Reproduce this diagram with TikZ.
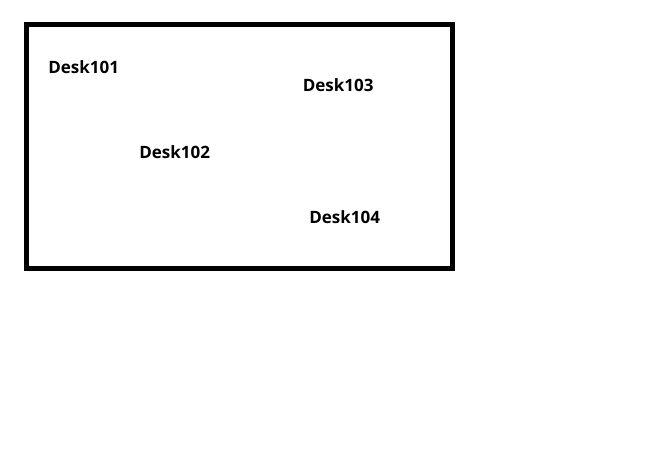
\documentclass[tikz,border=0pt]{standalone}
\usepackage{fontspec}
\setsansfont{Open Sans}
\begin{document}
\begin{tikzpicture}[x=0.75pt, y=-0.75pt,
  desk/.style={font=\sffamily\bfseries\fontsize{12.75pt}{15pt}\selectfont, inner sep=0pt, anchor=base west}]
\useasboundingbox[fill=white] (0,0) rectangle (645,466);
% room:
\draw[line width=3.75pt] (26.5,25) rectangle (452,269);
% desks:
\node[desk] (desk101) at (48,74) {Desk101};
\node[desk] (desk103) at (302.5,92) {Desk103};
\node[desk] (desk102) at (139,159) {Desk102};
\node[desk] (desk104) at (309,224) {Desk104};
\end{tikzpicture}
\end{document}
